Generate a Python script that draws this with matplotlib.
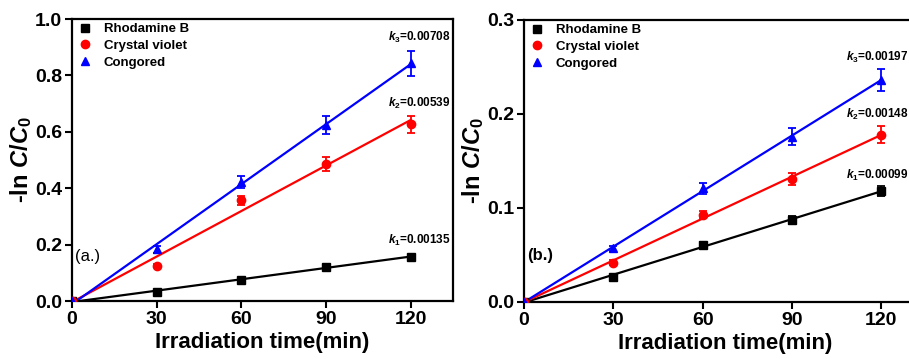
import numpy as np
import matplotlib
matplotlib.use("Agg")
from matplotlib import pyplot as plt
from matplotlib.lines import Line2D

plt.rcParams['font.family'] = ['Liberation Sans', 'DejaVu Sans']
plt.rcParams['font.weight'] = 'bold'
plt.rcParams['mathtext.fontset'] = 'custom'
plt.rcParams['mathtext.rm'] = 'Liberation Sans:bold'
plt.rcParams['mathtext.it'] = 'Liberation Sans:bold:italic'
plt.rcParams['mathtext.bf'] = 'Liberation Sans:bold'

# ----- data -----
time = [0, 30, 60, 90, 120]
names = ["Rhodamine B", "Crystal violet", "Congored"]
colors = ["black", "red", "blue"]
markers = ["s", "o", "^"]

# panel (a)
a_rhb = [0, 0.032, 0.075, 0.121, 0.157]
a_rhb_err = [0, 0.004, 0.005, 0.005, 0.006]
a_cv = [0, 0.125, 0.357, 0.487, 0.626]
a_cv_err = [0, 0.005, 0.016, 0.025, 0.031]
a_cr = [0, 0.183, 0.421, 0.624, 0.843]
a_cr_err = [0, 0.013, 0.022, 0.031, 0.044]
a_k = ["0.00135", "0.00539", "0.00708"]
a_k_y = [0.215, 0.70, 0.935]

# panel (b)
b_rhb = [0, 0.027, 0.061, 0.087, 0.118]
b_rhb_err = [0, 0.002, 0.003, 0.004, 0.005]
b_cv = [0, 0.042, 0.093, 0.131, 0.178]
b_cv_err = [0, 0.003, 0.004, 0.006, 0.009]
b_cr = [0, 0.057, 0.121, 0.176, 0.236]
b_cr_err = [0, 0.003, 0.006, 0.009, 0.012]
b_k = ["0.00099", "0.00148", "0.00197"]
b_k_y = [0.135, 0.199, 0.260]

fig = plt.figure(figsize=(9.09, 3.59), dpi=100)
ax1 = fig.add_axes([72/909, 58/359, 381/909, 282/359])
ax2 = fig.add_axes([524/909, 57/359, 402/909, 282/359])


def draw_panel(ax, series, errs, ks, k_y, ymax, yticks, k_x, tag, tag_y, tag_weight):
    t = np.array(time)
    for i in range(3):
        y = np.array(series[i])
        slope, icpt = np.polyfit(t, y, 1)
        xf = np.array([t[0], t[-1]])
        ax.plot(xf, slope * xf + icpt, color=colors[i], lw=1.6, zorder=2)
        ax.errorbar(t, y, yerr=errs[i], fmt=markers[i], color=colors[i],
                    ms=6, capsize=3, elinewidth=1.3, capthick=1.3, zorder=3)
        ax.text(k_x, k_y[i], r"$k_{%d}$=%s" % (i + 1, ks[i]), fontsize=8.5,
                ha='left', va='center')
    ax.set_xlim(0, 135)
    ax.set_ylim(0, ymax)
    ax.set_xticks([0, 30, 60, 90, 120])
    ax.set_yticks(yticks)
    ax.tick_params(direction='out', width=1.5, length=5, labelsize=14, pad=2)
    for lbl in ax.get_xticklabels() + ax.get_yticklabels():
        lbl.set_fontweight('bold')
    for s in ax.spines.values():
        s.set_linewidth(1.6)
    ax.set_xlabel("Irradiation time(min)", fontsize=16, fontweight='bold', labelpad=3)
    ax.set_ylabel(r"-ln $C/C_{\mathit{0}}$", fontsize=17, fontweight='bold', labelpad=1)
    ax.text(1, tag_y, tag, fontsize=12, fontweight=tag_weight, ha='left', va='center')
    handles = [Line2D([], [], ls='none', marker=markers[i], color=colors[i], ms=6)
               for i in range(3)]
    ax.legend(handles, names, loc='upper left', frameon=False,
              handletextpad=0.7, borderaxespad=0.0, borderpad=0.3, labelspacing=0.35,
              handlelength=1.4, prop={'weight': 'bold', 'size': 9.5})


draw_panel(ax1, [a_rhb, a_cv, a_cr], [a_rhb_err, a_cv_err, a_cr_err], a_k, a_k_y,
           1.0, [0.0, 0.2, 0.4, 0.6, 0.8, 1.0], 112, "(a.)", 0.157, 'normal')
draw_panel(ax2, [b_rhb, b_cv, b_cr], [b_rhb_err, b_cv_err, b_cr_err], b_k, b_k_y,
           0.3, [0.0, 0.1, 0.2, 0.3], 108, "(b.)", 0.049, 'bold')

fig.savefig("out.png", dpi=100)
